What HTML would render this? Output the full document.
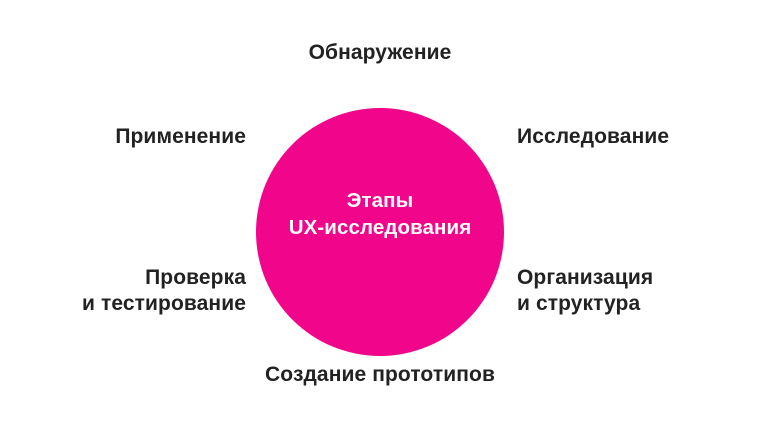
<!DOCTYPE html>
<html><head><meta charset="utf-8"><style>
body{margin:0;width:760px;height:428px;background:#fff;position:relative;overflow:hidden;font-family:"Liberation Sans","DejaVu Sans",sans-serif;}
.c{position:absolute;left:256px;top:108px;width:248px;height:248px;border-radius:50%;background:#f1058b;}
.t{position:absolute;font-size:21px;font-weight:bold;color:#222;line-height:26px;white-space:nowrap;letter-spacing:0.1px}
.r{text-align:right}
.m{text-align:center;width:300px;left:230px}
.w{color:#fff;font-size:20.5px}
</style></head><body>
<div class="c"></div>
<div class="t m w" style="top:187px;line-height:27px">Этапы<br>UX-исследования</div>
<div class="t m" style="top:40px">Обнаружение</div>
<div class="t r" style="right:514px;top:124px">Применение</div>
<div class="t" style="left:517px;top:124px">Исследование</div>
<div class="t r" style="right:514px;top:265px">Проверка<br>и тестирование</div>
<div class="t" style="left:517px;top:265px">Организация<br>и структура</div>
<div class="t m" style="top:362px">Создание прототипов</div>
</body></html>
